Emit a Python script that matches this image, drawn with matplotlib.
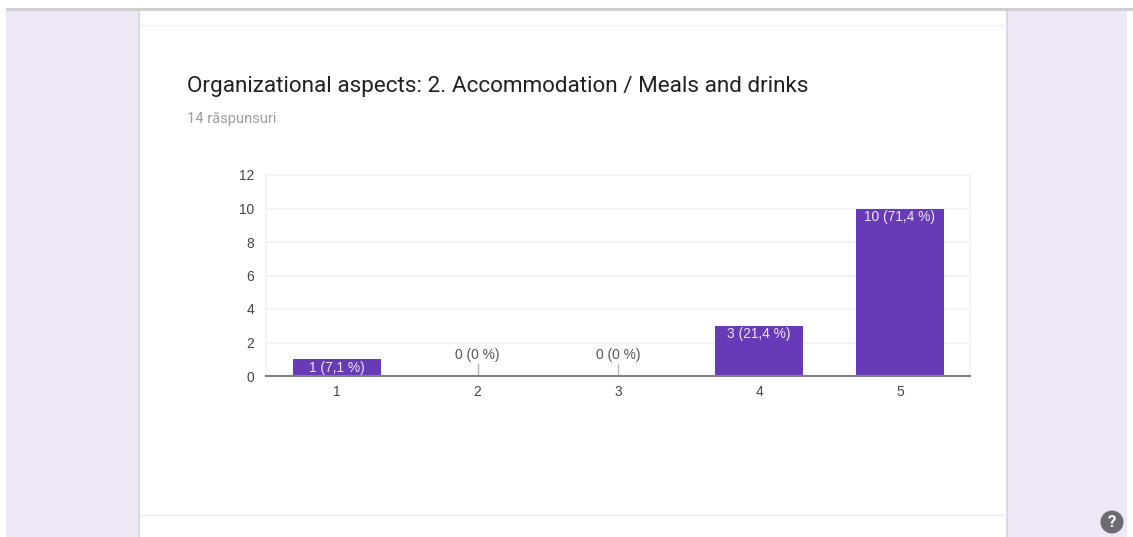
import matplotlib
matplotlib.use("Agg")
import matplotlib.pyplot as plt
from matplotlib.patches import Rectangle, Circle

# Datos
categorias = ["1", "2", "3", "4", "5"]
valores = [1, 0, 0, 3, 10]
etiquetas = ["1 (7,1 %)", "0 (0 %)", "0 (0 %)", "3 (21,4 %)", "10 (71,4 %)"]
yticks = [0, 2, 4, 6, 8, 10, 12]
titulo = "Organizational aspects: 2. Accommodation / Meals and drinks"
subtitulo = "14 răspunsuri"

W, H = 1133, 537
morado = "#673ab7"
fondo = "#ede7f6"

fig = plt.figure(figsize=(W / 100, H / 100), dpi=100, facecolor="white")

# pagina de fondo, en pixeles
bg = fig.add_axes([0, 0, 1, 1])
bg.set_xlim(0, W)
bg.set_ylim(H, 0)
bg.axis("off")
bg.add_patch(Rectangle((6, 10), 1121, H - 10, color=fondo, lw=0))
bg.add_patch(Rectangle((138, 10), 2, H - 10, color="#dcd7e3", lw=0))
bg.add_patch(Rectangle((1006, 10), 2, H - 10, color="#dcd7e3", lw=0))
bg.add_patch(Rectangle((140, 10), 866, H - 10, color="white", lw=0))
bg.add_patch(Rectangle((6, 8), 1127, 2.5, color="#cfcfd2", lw=0))
bg.plot([140, 1006], [24.5, 24.5], color="#f0f0f0", lw=1)
bg.plot([140, 1006], [514.5, 514.5], color="#ebebeb", lw=1)
bg.add_patch(Circle((1112, 522), 11.5, color="#6e6a72", lw=0))
bg.text(1112, 522.5, "?", color="white", fontsize=12, fontweight="bold",
        family="Roboto", ha="center", va="center")

bg.text(187, 86.5, titulo, family="Roboto", fontsize=16.2, color="#212121", va="center")
bg.text(187, 118.5, subtitulo, family="Roboto", fontsize=10.6, color="#9e9e9e", va="center")

# grafica
ax = fig.add_axes([266.4 / W, 1 - 376 / H, 704 / W, 201 / H])
ax.set_xlim(-0.5, 4.5)
ax.set_ylim(0, 12)
ax.patch.set_alpha(0)
x = range(len(categorias))
ax.bar(x, valores, width=0.625, color=morado, zorder=3)

for i, (v, e) in enumerate(zip(valores, etiquetas)):
    if v > 0:
        ax.annotate(e, (i, v), xytext=(0, -6), textcoords="offset points", ha="center",
                    va="center", color="#ede7f6", fontsize=9.9, family="Liberation Sans", zorder=4)
    else:
        ax.vlines(i, 0, 0.8, color="#b5b5b5", lw=1, zorder=2)
        ax.annotate(e, (i, 0), xytext=(0, 15), textcoords="offset points", ha="center",
                    va="center", color="#555555", fontsize=9.9, family="Liberation Sans")

ax.set_yticks(yticks)
ax.set_xticks(list(x), categorias)
ax.grid(axis="y", color="#f1f1f1", lw=1.2, zorder=0)
ax.set_axisbelow(True)
for lado in ["top", "left", "right"]:
    ax.spines[lado].set_color("#f3f3f3")
    ax.spines[lado].set_linewidth(1.2)
ax.spines["bottom"].set_color("#808080")
ax.spines["bottom"].set_linewidth(1.5)
ax.spines["bottom"].set_zorder(5)
ax.tick_params(length=0, labelsize=9.9, labelcolor="#444444")
ax.tick_params(axis="y", pad=9)
ax.tick_params(axis="x", pad=6.2)
for t in ax.get_xticklabels() + ax.get_yticklabels():
    t.set_family("Liberation Sans")
for t in ax.get_yticklabels():
    t.set_verticalalignment("center_baseline")

plt.savefig("out.png", dpi=100)
